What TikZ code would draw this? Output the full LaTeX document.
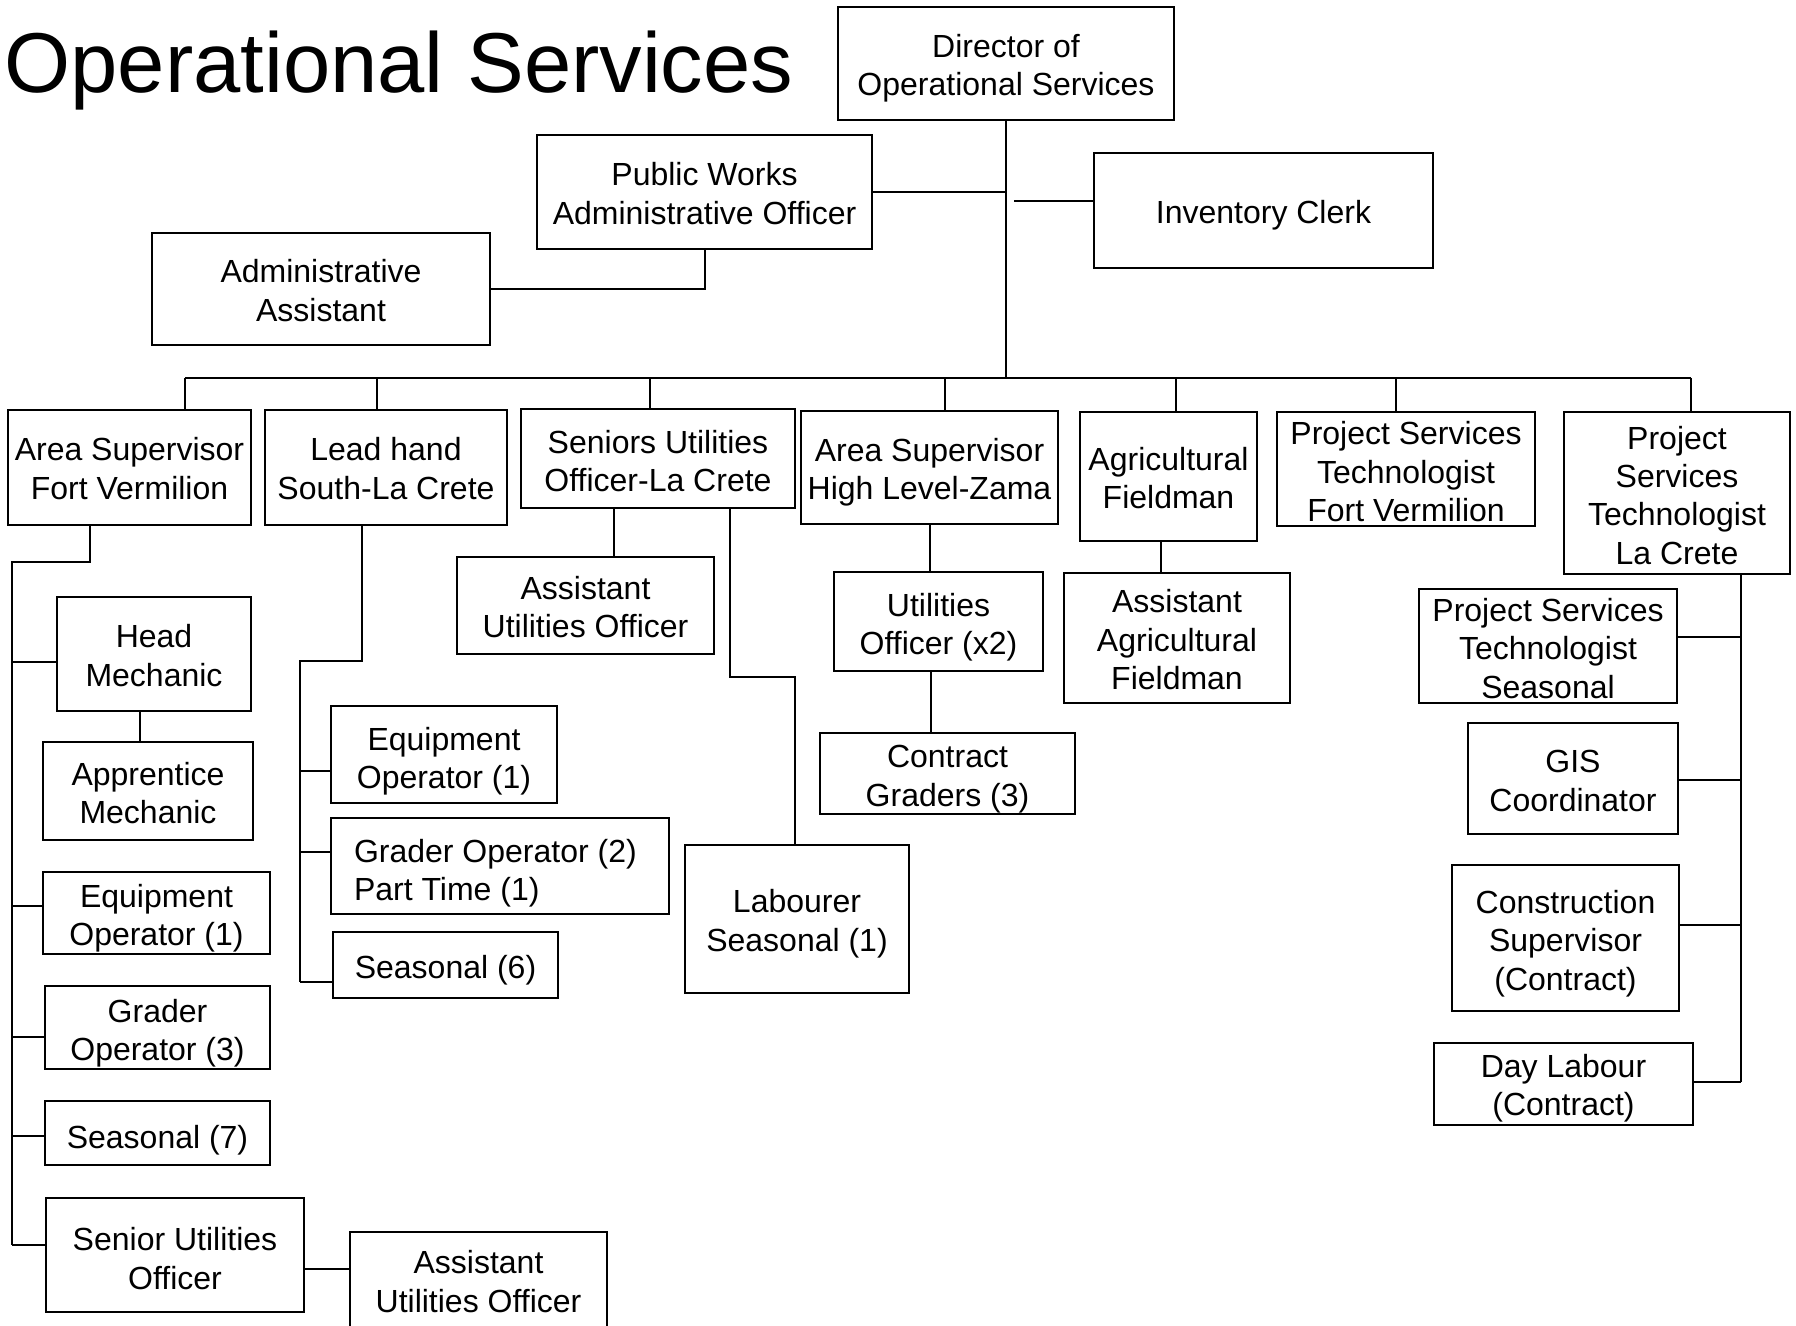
\documentclass[tikz,border=0pt]{standalone}
\usepackage{fontspec}
\setmainfont{Liberation Sans}
\tikzset{
  box/.style={draw, line width=1.35pt, inner sep=0pt},
  boxtext/.style={inner sep=0pt, align=center, font=\fontsize{16}{19.2}\selectfont},
  conn/.style={line width=1pt},
}
% \orgbox[text style]{name}{x1}{y1}{x2}{y2}{text drop in px}{text}
\newcommand\orgbox[8][]{%
  \pgfmathsetmacro\obw{(#5-#3)*0.5}%
  \pgfmathsetmacro\obh{(#6-#4)*0.5}%
  \pgfmathsetmacro\obd{-(#7)*0.5}%
  \node[box, minimum width=\obw pt, minimum height=\obh pt] (#2) at ({(#3+#5)/2},{(#4+#6)/2}) {};%
  \node[boxtext, yshift=\obd pt, #1] (#2t) at (#2.center) {#8};%
}
\begin{document}
\begin{tikzpicture}[x=0.5pt, y=-0.5pt]
\useasboundingbox (0,0) rectangle (1796,1326);
\fill[white] (0,0) rectangle (1796,1326);
\clip (0,0) rectangle (1796,1326);

\node[anchor=base west, inner sep=0pt, font=\fontsize{42.5}{50}\selectfont] (title) at (4,93) {Operational Services};

% top
\orgbox{dir}{838}{7}{1174}{120}{4.6}{Director of\\Operational Services}
\orgbox{pw}{537}{135}{872}{249}{1.7}{Public Works\\Administrative Officer}
\orgbox{ic}{1094}{153}{1433}{268}{4.6}{Inventory Clerk}
\orgbox{aa}{152}{233}{490}{345}{1.7}{Administrative\\Assistant}

% second level
\orgbox{asfv}{8}{410}{251}{525}{1.1}{Area Supervisor\\Fort Vermilion}
\orgbox{lh}{265}{410}{507}{525}{1.1}{Lead hand\\South-La Crete}
\orgbox{sen}{521}{409}{795}{508}{2.3}{Seniors Utilities\\Officer-La Crete}
\orgbox{ashl}{801}{411}{1058}{524}{4.6}{Area Supervisor\\High Level-Zama}
\orgbox{agri}{1080}{412}{1257}{541}{1.7}{Agricultural\\Fieldman}
\orgbox{pstfv}{1277}{412}{1535}{526}{2.9}{Project Services\\Technologist\\Fort Vermilion}
\orgbox{pstlc}{1564}{412}{1790}{574}{2.3}{Project\\Services\\Technologist\\La Crete}

% Fort Vermilion
\orgbox{hm}{57}{597}{251}{711}{1.7}{Head\\Mechanic}
\orgbox{am}{43}{742}{253}{840}{2.3}{Apprentice\\Mechanic}
\orgbox{eofv}{43}{872}{270}{954}{5.2}{Equipment\\Operator (1)}
\orgbox{go3}{45}{986}{270}{1069}{5.7}{Grader\\Operator (3)}
\orgbox{s7}{45}{1101}{270}{1165}{6.9}{Seasonal (7)}
\orgbox{suo}{46}{1198}{304}{1312}{3.4}{Senior Utilities\\Officer}
\orgbox{auo2}{350}{1232}{607}{1336}{-2.3}{Assistant\\Utilities Officer}

% Lead hand
\orgbox{eo2}{331}{706}{557}{803}{6.9}{Equipment\\Operator (1)}
\orgbox[align=left, xshift=-2.3pt]{go2}{331}{818}{669}{914}{7.4}{Grader Operator (2)\\Part Time (1)}
\orgbox{s6}{333}{932}{558}{998}{5.7}{Seasonal (6)}

% Seniors
\orgbox{auo1}{457}{557}{714}{654}{1.7}{Assistant\\Utilities Officer}
\orgbox{lab}{685}{845}{909}{993}{4.6}{Labourer\\Seasonal (1)}

% High Level
\orgbox{uo}{834}{572}{1043}{671}{5.7}{Utilities\\Officer (x2)}
\orgbox{cg}{820}{733}{1075}{814}{5.7}{Contract\\Graders (3)}

% Agri
\orgbox{aaf}{1064}{573}{1290}{703}{1.7}{Assistant\\Agricultural\\Fieldman}

% PST La Crete
\orgbox{psts}{1419}{589}{1677}{703}{2.3}{Project Services\\Technologist\\Seasonal}
\orgbox{gis}{1468}{723}{1678}{834}{2.3}{GIS\\Coordinator}
\orgbox{cs}{1452}{865}{1679}{1011}{5.7}{Construction\\Supervisor\\(Contract)}
\orgbox{dl}{1434}{1043}{1693}{1125}{4.0}{Day Labour\\(Contract)}

% ---------- connectors ----------
\coordinate (b1) at (185,378);
\coordinate (b2) at (377,378);
\coordinate (b3) at (650,378);
\coordinate (b4) at (945,378);
\coordinate (b5) at (1176,378);
\coordinate (b6) at (1396,378);
\coordinate (b7) at (1691,378);
\draw[conn] (dir.south) -- (dir.south |- b1);
\draw[conn] (b1) -- (b7);
\foreach \bp/\nd in {b1/asfv, b2/lh, b3/sen, b4/ashl, b5/agri, b6/pstfv, b7/pstlc}
  \draw[conn] (\bp) -- (\bp |- \nd.north);

\draw[conn] (pw.east) -- (pw.east -| dir.south);
\coordinate (icj) at (1014,201);
\draw[conn] (icj) -- (icj -| ic.west);
\draw[conn] (aa.east) -| (pw.south);

% Fort Vermilion tree
\coordinate (fv1) at (90,562);
\coordinate (fv2) at (12,562);
\coordinate (fv3) at (12,1245);
\draw[conn] (fv1 |- asfv.south) -- (fv1) -- (fv2) -- (fv3);
\foreach \yy/\nd in {662/hm, 906/eofv, 1037/go3, 1136/s7, 1245/suo}{
  \coordinate (tmp) at (12,\yy);
  \draw[conn] (tmp) -- (tmp -| \nd.west);
}
\coordinate (hma) at (140,0);
\draw[conn] (hma |- hm.south) -- (hma |- am.north);
\coordinate (sa) at (0,1269);
\draw[conn] (sa -| suo.east) -- (sa -| auo2.west);

% Lead hand tree
\coordinate (lh1) at (362,661);
\coordinate (lh2) at (300,661);
\coordinate (lh3) at (300,982);
\draw[conn] (lh1 |- lh.south) -- (lh1) -- (lh2) -- (lh3);
\foreach \yy/\nd in {771/eo2, 852/go2, 982/s6}{
  \coordinate (tmp) at (300,\yy);
  \draw[conn] (tmp) -- (tmp -| \nd.west);
}

% Seniors tree
\coordinate (s1) at (614,0);
\draw[conn] (s1 |- sen.south) -- (s1 |- auo1.north);
\coordinate (s2) at (730,677);
\coordinate (s3) at (795,677);
\draw[conn] (s2 |- sen.south) -- (s2) -- (s3) -- (s3 |- lab.north);

% High Level tree
\draw[conn] (ashl.south) -- (ashl.south |- uo.north);
\coordinate (u1) at (931,0);
\draw[conn] (u1 |- uo.south) -- (u1 |- cg.north);

% Agri
\coordinate (a1) at (1161,0);
\draw[conn] (a1 |- agri.south) -- (a1 |- aaf.north);

% PST La Crete tree
\coordinate (p1) at (1741,1082);
\draw[conn] (p1 |- pstlc.south) -- (p1);
\foreach \yy/\nd in {637/psts, 780/gis, 925/cs, 1082/dl}{
  \coordinate (tmp) at (1741,\yy);
  \draw[conn] (tmp) -- (tmp -| \nd.east);
}
\end{tikzpicture}
\end{document}
